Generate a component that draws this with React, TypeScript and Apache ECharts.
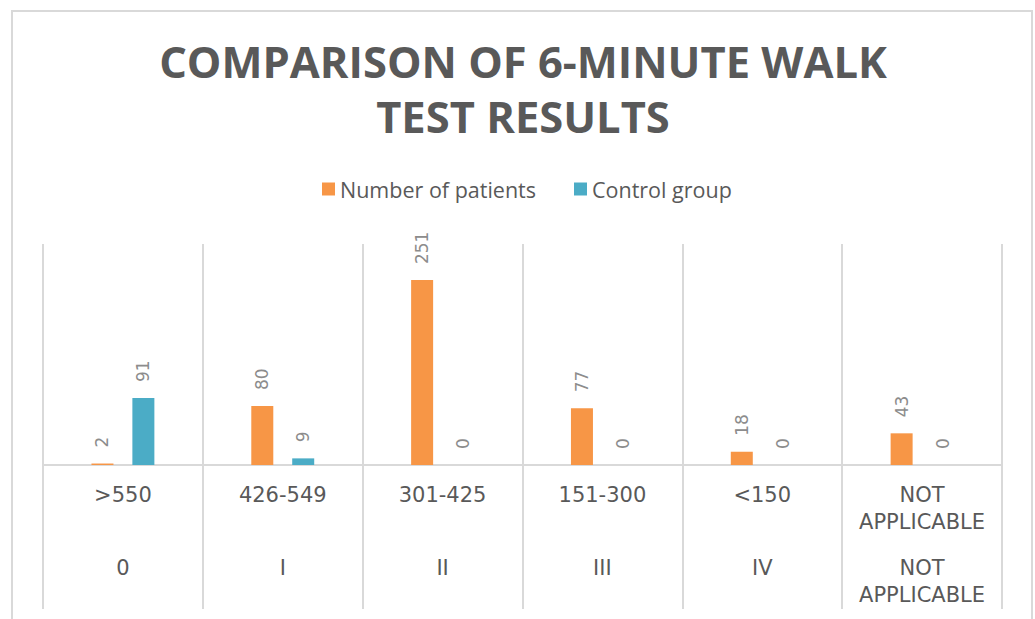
import React, { useEffect, useRef } from "react";
import * as echarts from "echarts";

const rangeLabels = [">550", "426-549", "301-425", "151-300", "<150", "NOT\nAPPLICABLE"];
const classLabels = ["0", "I", "II", "III", "IV", "NOT\nAPPLICABLE"];
const patients = [2, 80, 251, 77, 18, 43];
const controls = [91, 9, 0, 0, 0, 0];
const seriesNames = ["Number of patients", "Control group"];
const titleText = "COMPARISON OF 6-MINUTE WALK\nTEST RESULTS";

const ORANGE = "#F79646";
const BLUE = "#4BACC6";
const GRID = "#d9d9d9";
const TEXT = "#595959";

export default function App() {
  const ref = useRef<HTMLDivElement>(null);
  useEffect(() => {
    if (!ref.current) return;
    const chart = echarts.init(ref.current, undefined, { renderer: "svg" });
    const valueLabel = {
      show: true,
      position: "top",
      distance: 16,
      rotate: 90,
      align: "left",
      verticalAlign: "middle",
      fontSize: 17,
      fontFamily: "DejaVu Sans",
      color: "#8c8c8c",
    };
    const axisLabelStyle = {
      interval: 0,
      margin: 16.5,
      fontSize: 21,
      lineHeight: 27,
      color: TEXT,
      fontFamily: "DejaVu Sans",
    };
    chart.setOption({
      animation: false,
      backgroundColor: "#ffffff",
      graphic: [
        {
          type: "rect",
          shape: { x: 12, y: 11, width: 1020, height: 640 },
          style: { fill: "none", stroke: GRID, lineWidth: 2 },
          silent: true,
        },
        {
          type: "text",
          x: 523,
          y: 34,
          style: {
            text: titleText,
            align: "center",
            verticalAlign: "top",
            fontSize: 43.5,
            fontWeight: "bold",
            fontFamily: "Open Sans",
            lineHeight: 55,
            fill: TEXT,
          },
        },
      ],
      legend: {
        left: 317,
        top: 173,
        itemWidth: 13,
        itemHeight: 13,
        itemGap: 38,
        icon: "rect",
        textStyle: { fontSize: 21.5, color: TEXT, fontFamily: "Open Sans" },
        data: seriesNames,
      },
      grid: { left: 43, right: 33, top: 244, bottom: 154, containLabel: false },
      xAxis: [
        {
          type: "category",
          data: rangeLabels,
          position: "bottom",
          axisLine: { show: true, lineStyle: { color: GRID, width: 2 } },
          axisTick: { show: true, interval: 0, length: 144, lineStyle: { color: GRID, width: 2 } },
          splitLine: { show: true, interval: 0, lineStyle: { color: GRID, width: 2 } },
          axisLabel: axisLabelStyle,
        },
        {
          type: "category",
          data: classLabels,
          position: "bottom",
          offset: 73,
          axisLine: { show: false },
          axisTick: { show: false },
          splitLine: { show: false },
          axisLabel: axisLabelStyle,
        },
      ],
      yAxis: { type: "value", min: 0, max: 300, show: false, splitLine: { show: false } },
      series: [
        {
          name: seriesNames[0],
          type: "bar",
          xAxisIndex: 0,
          data: patients,
          barWidth: 22,
          barGap: "86%",
          itemStyle: { color: ORANGE },
          label: valueLabel,
        },
        {
          name: seriesNames[1],
          type: "bar",
          xAxisIndex: 0,
          data: controls,
          barWidth: 22,
          itemStyle: { color: BLUE },
          label: valueLabel,
        },
      ],
    });
    return () => chart.dispose();
  }, []);
  return (
    <div
      ref={ref}
      style={{ position: "absolute", left: 0, top: 0, width: 1035, height: 619, background: "#fff" }}
    />
  );
}
